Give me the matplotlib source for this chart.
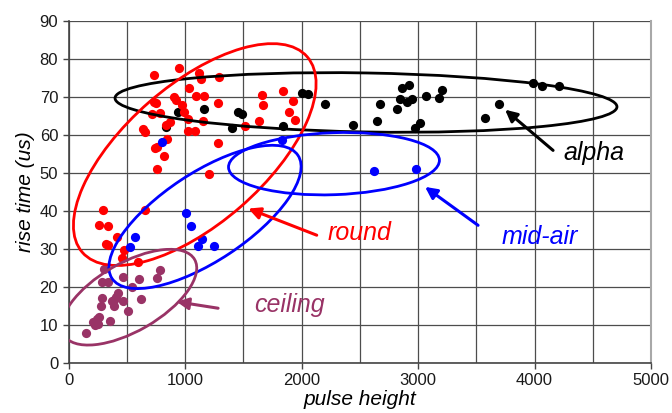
import matplotlib
matplotlib.use("Agg")
import matplotlib.pyplot as plt
from matplotlib.patches import Ellipse
from matplotlib.transforms import ScaledTranslation

plt.rcParams['font.family'] = ['Liberation Sans', 'DejaVu Sans']

# pulse height / rise time (us) for each event class
alpha_x = [838, 942, 1164, 1405, 1450, 1490, 1841, 2004, 2055, 2202, 2441, 2645, 2673,
           2818, 2845, 2861, 2904, 2922, 2947, 2973, 3016, 3068, 3179, 3205, 3575, 3696,
           3988, 4066, 4212]
alpha_y = [62.1, 65.9, 66.9, 61.7, 66.0, 65.5, 62.2, 71.1, 70.6, 68.0, 62.5, 63.5, 68.2,
           66.9, 69.5, 72.2, 68.5, 73.2, 69.3, 61.7, 63.0, 70.1, 69.8, 71.9, 64.3, 68.0,
           73.7, 72.7, 72.7]

round_x = [736, 951, 1122, 1134, 1291, 1036, 907, 919, 1094, 1165, 736, 750, 976, 1285,
           713, 785, 991, 1027, 1157, 871, 836, 1027, 1085, 641, 656, 848, 756, 742, 822,
           762, 1285, 1205, 1657, 1666, 1838, 1929, 1895, 1943, 1635, 1514,
           293, 656, 261, 336, 413, 318, 341, 476, 461, 599]
round_y = [75.6, 77.5, 76.3, 74.7, 75.3, 72.3, 69.9, 69.2, 70.1, 70.1, 68.6, 68.3, 67.9,
           68.3, 65.5, 65.7, 65.9, 64.2, 63.6, 63.3, 62.7, 61.0, 61.0, 61.4, 60.7, 59.0,
           56.9, 56.6, 54.3, 50.9, 57.8, 49.6, 70.5, 67.9, 71.6, 69.0, 66.1, 63.9, 63.6,
           62.2, 40.3, 40.3, 36.4, 35.9, 33.0, 31.4, 31.1, 29.6, 27.5, 26.6]

midair_x = [799, 1829, 2621, 2982, 570, 527, 1008, 1051, 1149, 1108, 1251]
midair_y = [58.1, 58.7, 50.5, 51.1, 33.1, 30.4, 39.4, 35.9, 32.5, 30.8, 30.8]

ceiling_x = [307, 464, 604, 785, 756, 541, 284, 341, 284, 427, 392, 370, 470, 622, 278,
             392, 513, 264, 241, 212, 355, 227, 255, 149, 407]
ceiling_y = [24.8, 22.6, 22.0, 24.4, 22.4, 19.9, 21.3, 21.3, 17.2, 18.3, 16.5, 16.3, 16.3,
             16.8, 15.0, 15.0, 13.6, 12.2, 11.5, 10.8, 11.1, 10.0, 10.2, 8.0, 17.4]

RED = '#ff0000'
BLUE = '#0000ff'
BLACK = '#000000'
PLUM = '#993366'

# cluster outlines: centre (data), full axes in pixels, tilt in degrees
outlines = [
    dict(center=(2553, 68.5), size=(502, 59), angle=-1, color=BLACK),
    dict(center=(1083, 54.8), size=(298, 139), angle=41, color=RED),
    dict(center=(2278, 52.4), size=(211, 62), angle=2, color=BLUE),
    dict(center=(1171, 38.4), size=(223, 88), angle=33.5, color=BLUE),
    dict(center=(520, 17.3), size=(151, 68), angle=30, color=PLUM),
]

# class labels and their pointers (text position, arrow tail, arrow tip)
labels = [
    dict(text='alpha', pos=(4511, 55.1), tail=(4159, 55.9), tip=(3747, 66.6), color=BLACK),
    dict(text='round', pos=(2494, 34.1), tail=(2130, 33.6), tip=(1543, 40.6), color=RED),
    dict(text='mid-air', pos=(4047, 33.1), tail=(3515, 36.2), tip=(3060, 46.3), color=BLUE),
    dict(text='ceiling', pos=(1893, 15.2), tail=(1283, 14.4), tip=(928, 16.1), color=PLUM),
]

fig = plt.figure(figsize=(6.72, 4.13), dpi=100)
ax = fig.add_axes([0.1021, 0.1211, 0.8667, 0.8288])

ax.set_xlim(0, 5000)
ax.set_ylim(0, 90)
ax.set_xticks(range(0, 5001, 1000))
ax.set_xticks(range(500, 5000, 1000), minor=True)
ax.set_yticks(range(0, 91, 10))
ax.grid(True, which='both', color='#4d4d4d', linewidth=0.9, zorder=0)
ax.set_axisbelow(True)
ax.tick_params(axis='x', which='minor', length=0)
ax.tick_params(axis='both', which='major', direction='out', length=4, width=1,
               color='#444444', labelsize=12, labelcolor='#1a1a1a')
for side in ('left', 'bottom'):
    ax.spines[side].set_color('#444444')
    ax.spines[side].set_linewidth(1.2)
ax.spines['top'].set_visible(False)
ax.spines['right'].set_color('#a8a8a8')
ax.spines['right'].set_linewidth(1.5)

ms = 44
ax.scatter(alpha_x, alpha_y, s=ms, color=BLACK, zorder=3, linewidths=0)
ax.scatter(round_x, round_y, s=ms, color=RED, zorder=3, linewidths=0)
ax.scatter(midair_x, midair_y, s=ms, color=BLUE, zorder=3, linewidths=0)
ax.scatter(ceiling_x, ceiling_y, s=ms, color=PLUM, zorder=3, linewidths=0)

for o in outlines:
    tr = fig.dpi_scale_trans + ScaledTranslation(o['center'][0], o['center'][1], ax.transData)
    e = Ellipse((0, 0), o['size'][0] / 100, o['size'][1] / 100, angle=o['angle'],
                transform=tr, fill=False, edgecolor=o['color'], linewidth=2.0, zorder=4)
    ax.add_patch(e)

for lb in labels:
    ax.annotate('', xy=lb['tip'], xytext=lb['tail'],
                arrowprops=dict(arrowstyle='-|>,head_length=0.7,head_width=0.35',
                                color=lb['color'], lw=2.2, shrinkA=0, shrinkB=0),
                zorder=5)
    ax.text(lb['pos'][0], lb['pos'][1], lb['text'], color=lb['color'], fontsize=18,
            style='italic', ha='center', va='center', zorder=5)

ax.set_xlabel('pulse height', fontsize=15, style='italic', labelpad=1)
ax.set_ylabel('rise time (us)', fontsize=15, style='italic', labelpad=3)

fig.savefig('out.png', dpi=100)
